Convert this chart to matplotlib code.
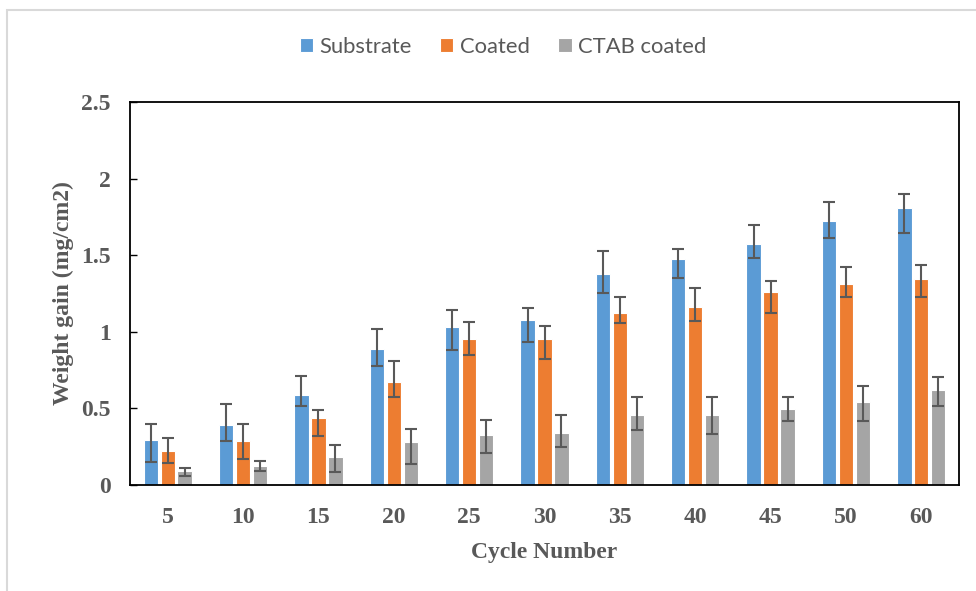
import numpy as np
import matplotlib
matplotlib.use("Agg")
import matplotlib.pyplot as plt
import matplotlib.patches as patches

# cycle numbers on the x axis
cycles = ["5", "10", "15", "20", "25", "30", "35", "40", "45", "50", "60"]

# weight gain (mg/cm2)
substrate = [0.295, 0.39, 0.585, 0.885, 1.03, 1.08, 1.38, 1.475, 1.575, 1.72, 1.805]
coated = [0.22, 0.29, 0.435, 0.67, 0.955, 0.955, 1.125, 1.165, 1.26, 1.31, 1.345]
ctab = [0.09, 0.125, 0.185, 0.28, 0.325, 0.34, 0.46, 0.46, 0.495, 0.545, 0.62]

# error bar ends (lower, upper)
substrate_lo = [0.152, 0.287, 0.516, 0.775, 0.883, 0.931, 1.251, 1.353, 1.482, 1.610, 1.645]
substrate_hi = [0.398, 0.527, 0.714, 1.020, 1.142, 1.157, 1.525, 1.542, 1.697, 1.849, 1.899]
coated_lo = [0.144, 0.170, 0.322, 0.576, 0.851, 0.824, 1.055, 1.072, 1.125, 1.227, 1.227]
coated_hi = [0.305, 0.398, 0.492, 0.809, 1.064, 1.040, 1.227, 1.286, 1.330, 1.423, 1.438]
ctab_lo = [0.057, 0.091, 0.083, 0.135, 0.211, 0.246, 0.359, 0.331, 0.416, 0.416, 0.518]
ctab_hi = [0.109, 0.159, 0.263, 0.366, 0.424, 0.459, 0.576, 0.576, 0.576, 0.646, 0.705]

series = [
    ("Substrate", substrate, substrate_lo, substrate_hi, "#5B9BD5"),
    ("Coated", coated, coated_lo, coated_hi, "#ED7D31"),
    ("CTAB coated", ctab, ctab_lo, ctab_hi, "#A5A5A5"),
]

grey_txt = "#595959"
serif = ["Liberation Serif", "DejaVu Serif"]

fig = plt.figure(figsize=(9.76, 5.91), dpi=100)
ax = fig.add_axes([130 / 976, 1 - 485 / 591, 829 / 976, 383 / 591])

# light chart border
fig.patches.append(patches.Rectangle((7 / 976, -0.05), 1.1, 1 - 10 / 591 + 0.05,
                                     transform=fig.transFigure, fill=False,
                                     edgecolor="#D9D9D9", linewidth=1.5))

x = np.arange(len(cycles))
pitch = 0.225
width = 0.19
for i, (name, vals, lo, hi, col) in enumerate(series):
    vals = np.array(vals)
    yerr = [vals - np.array(lo), np.array(hi) - vals]
    ax.bar(x + (i - 1) * pitch, vals, width, color=col, edgecolor="white",
           linewidth=0.8, label=name, zorder=2)
    ax.errorbar(x + (i - 1) * pitch, vals, yerr=yerr, fmt="none",
                ecolor="#595959", elinewidth=1.5, capsize=4.3, capthick=1.5,
                zorder=3)

ax.set_xlim(-0.5, len(cycles) - 0.5)
ax.set_ylim(0, 2.5)
ax.set_yticks([0, 0.5, 1, 1.5, 2, 2.5])
ax.set_yticklabels(["0", "0.5", "1", "1.5", "2", "2.5"])
ax.set_xticks(x)
ax.set_xticklabels(cycles)

for s in ax.spines.values():
    s.set_linewidth(1.3)
    s.set_color("black")

ax.tick_params(axis="y", direction="in", length=5, width=1, pad=14)
ax.tick_params(axis="x", length=0, pad=16)
for lab in ax.get_xticklabels() + ax.get_yticklabels():
    lab.set_fontfamily(serif)
    lab.set_fontweight("bold")
    lab.set_fontsize(17)
    lab.set_color(grey_txt)

ax.set_xlabel("Cycle Number", fontfamily=serif, fontweight="bold",
              fontsize=17, color=grey_txt, labelpad=10)
ax.set_ylabel("Weight gain (mg/cm2)", fontfamily=serif, fontweight="bold",
              fontsize=17, color=grey_txt, labelpad=5)

leg = fig.legend(loc="center", bbox_to_anchor=(503 / 976, 1 - 47 / 591),
                 ncol=3, frameon=False, handlelength=0.6, handleheight=0.6,
                 handletextpad=0.3, columnspacing=1.3,
                 prop={"family": "Lato", "size": 15.8})
for t in leg.get_texts():
    t.set_color(grey_txt)

fig.savefig("out.png", dpi=100, facecolor="white")
